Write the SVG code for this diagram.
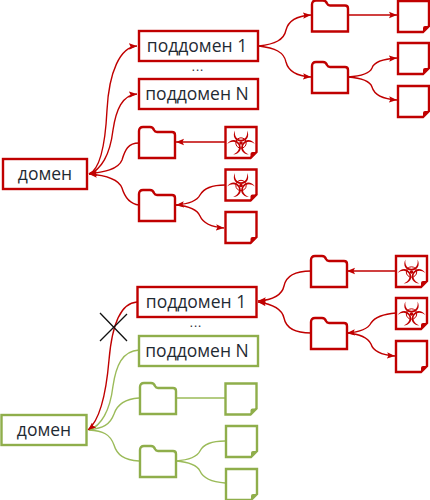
<svg xmlns="http://www.w3.org/2000/svg" xmlns:xlink="http://www.w3.org/1999/xlink" width="430" height="500" viewBox="0 0 430 500">
<style>
text{font-family:"Open Sans","Noto Sans",sans-serif;font-size:17.500px;fill:#1f2a33;text-anchor:middle}
text.d{font-size:12px;letter-spacing:1px}
.r{fill:#fff;stroke:#c00000;stroke-width:2.4}
.g{fill:#fff;stroke:#8fae4b;stroke-width:2.4}
.cr{fill:none;stroke:#c00000;stroke-width:1.4}
.cg{fill:none;stroke:#9bbb59;stroke-width:1.4}
.x{stroke:#111;stroke-width:1.3;fill:none}
</style>
<defs>
<marker id="a" markerWidth="9" markerHeight="8" refX="8" refY="4" orient="auto" markerUnits="userSpaceOnUse"><path d="M0,0.800 L8,4 L0,7.200 L1.500,4z" fill="#c00000"/></marker>
<path id="folder" d="M0,4 Q0,0 4,0 H11 Q14,0 15,3 Q16,5 18,5 H33 Q36,5 36,8 V31 H0z"/>
<path id="doc" d="M0,0 H31 V25 L25,31 H0z"/>
<path id="corner" d="M31,25 L25,31 V27 Q25,25 27,25z"/>
<path id="horn" d="M9.500,3.500 C6.500,9 9.500,14.500 15.500,14.500 C21.500,14.500 24.500,9 21.500,3.500 C22.500,9 19.500,12.800 15.500,12.800 C11.500,12.800 8.500,9 9.500,3.500z"/>
<g id="bio" fill="#c00000" stroke="none">
<circle cx="15.500" cy="16" r="5.200" fill="none" stroke="#c00000" stroke-width="1"/>
<circle cx="15.500" cy="16" r="1.800"/>
<use href="#horn" xlink:href="#horn"/>
<use href="#horn" xlink:href="#horn" transform="rotate(120 15.500 16)"/>
<use href="#horn" xlink:href="#horn" transform="rotate(240 15.500 16)"/>
</g>
</defs>

<g id="connectors">
<g class="cr">
<path d="M89,174 C99,170 105,150 107,110 C109,72 120,47 137,46" marker-end="url(#a)"/>
<path d="M89,174 C101,170 110,155 113,130 C116,110 122,95 137,94" marker-end="url(#a)"/>
<path d="M139,143 C128,143 125,150 122,160 C118,170 103,172 89,174" marker-end="url(#a)"/>
<path d="M139,205 C130,204 125,198 122,188 C118,178 103,175 89,174" marker-end="url(#a)"/>
<path d="M225,142 H176" marker-end="url(#a)"/>
<path d="M225,185 C212,185 204,188 200,195 C197,201 188,204 176,205" marker-end="url(#a)"/>
<path d="M176,205 C188,206 197,209 200,216 C203,223 212,227 224,228" marker-end="url(#a)"/>
<path d="M259,46 C275,44 284,40 286,30 C288,22 296,16 311,15" marker-end="url(#a)"/>
<path d="M259,46 C275,48 284,52 286,62 C288,70 296,76 311,77" marker-end="url(#a)"/>
<path d="M348,15 H397" marker-end="url(#a)"/>
<path d="M348,77 C362,76 370,73 372,68 C374,62 382,59 397,58" marker-end="url(#a)"/>
<path d="M348,77 C362,78 370,81 372,87 C374,94 382,99 397,100" marker-end="url(#a)"/>
</g>
<g class="cg">
<path d="M89,430 C101,426 110,411 113,386 C116,366 122,351 139,350"/>
<path d="M89,430 C103,428 110,425 114,414 C117,405 124,399 139,398"/>
<path d="M89,430 C103,431 110,434 114,445 C117,455 124,460 139,461"/>
<path d="M176,398 H225"/>
<path d="M176,461 C188,460 197,457 200,451 C203,445 212,441 225,441"/>
<path d="M176,461 C188,462 197,465 200,471 C203,478 212,482 225,483"/>
</g>
<g class="cr">
<path d="M137,302 C120,303 112,325 109,360 C106,395 100,420 88,430" marker-end="url(#a)"/>
<path d="M311,271 C295,271 286,276 284,286 C282,295 272,300 258,301" marker-end="url(#a)"/>
<path d="M311,333 C295,333 286,328 284,318 C282,309 272,304 258,302" marker-end="url(#a)"/>
<path d="M396,271 H347" marker-end="url(#a)"/>
<path d="M396,313 C383,314 375,317 371,323 C368,329 360,332 347,333" marker-end="url(#a)"/>
<path d="M347,333 C360,334 368,338 371,344 C373,351 382,355 395,356" marker-end="url(#a)"/>
</g>
<path class="x" d="M100,313 L127,341 M127,314 L100,341"/>
</g>

<g id="top-domain"><rect class="r" x="3" y="159" width="84" height="30"/><text x="45" y="180">домен</text></g>
<g id="top-sub1"><rect class="r" x="139" y="31" width="119" height="30"/><text x="197" y="52">поддомен 1</text></g>
<text class="d" x="198" y="71">...</text>
<g id="top-subN"><rect class="r" x="139" y="79" width="119" height="30"/><text x="197" y="100">поддомен N</text></g>
<g id="top-folder1"><use xlink:href="#folder" href="#folder" class="r" x="139" y="127"/></g>
<g id="top-folder2"><use xlink:href="#folder" href="#folder" class="r" x="139" y="190"/></g>
<g id="top-bio1" transform="translate(225.500,127)"><use href="#doc" xlink:href="#doc" class="r"/><use href="#corner" xlink:href="#corner" fill="#c00000"/><use href="#bio" xlink:href="#bio"/></g>
<g id="top-bio2" transform="translate(225.500,169.500)"><use href="#doc" xlink:href="#doc" class="r"/><use href="#corner" xlink:href="#corner" fill="#c00000"/><use href="#bio" xlink:href="#bio"/></g>
<g id="top-doc3" transform="translate(225.500,212)"><use href="#doc" xlink:href="#doc" class="r"/><use href="#corner" xlink:href="#corner" fill="#c00000"/></g>
<g id="top-folder3"><use href="#folder" xlink:href="#folder" class="r" x="312" y="0.500"/></g>
<g id="top-folder4"><use href="#folder" xlink:href="#folder" class="r" x="312" y="62"/></g>
<g id="top-doc4" transform="translate(398,1)"><use href="#doc" xlink:href="#doc" class="r"/><use href="#corner" xlink:href="#corner" fill="#c00000"/></g>
<g id="top-doc5" transform="translate(398,43)"><use href="#doc" xlink:href="#doc" class="r"/><use href="#corner" xlink:href="#corner" fill="#c00000"/></g>
<g id="top-doc6" transform="translate(398,86)"><use href="#doc" xlink:href="#doc" class="r"/><use href="#corner" xlink:href="#corner" fill="#c00000"/></g>

<g id="bot-domain"><rect class="g" x="1.500" y="415" width="85" height="30"/><text x="44" y="436">домен</text></g>
<g id="bot-sub1"><rect class="r" x="137.500" y="287" width="119" height="30"/><text x="196" y="308">поддомен 1</text></g>
<text class="d" x="196" y="327">...</text>
<g id="bot-subN"><rect class="g" x="139" y="336" width="119" height="30"/><text x="197" y="357">поддомен N</text></g>
<g id="bot-folder1"><use href="#folder" xlink:href="#folder" class="g" x="140" y="383"/></g>
<g id="bot-folder2"><use href="#folder" xlink:href="#folder" class="g" x="140" y="446"/></g>
<g id="bot-doc1" transform="translate(225.500,383.500)"><use href="#doc" xlink:href="#doc" class="g"/><use href="#corner" xlink:href="#corner" fill="#8fae4b"/></g>
<g id="bot-doc2" transform="translate(226,426)"><use href="#doc" xlink:href="#doc" class="g"/><use href="#corner" xlink:href="#corner" fill="#8fae4b"/></g>
<g id="bot-doc3" transform="translate(226,469)"><use href="#doc" xlink:href="#doc" class="g"/><use href="#corner" xlink:href="#corner" fill="#8fae4b"/></g>
<g id="bot-folder3"><use href="#folder" xlink:href="#folder" class="r" x="311" y="256"/></g>
<g id="bot-folder4"><use href="#folder" xlink:href="#folder" class="r" x="311" y="318"/></g>
<g id="bot-bio1" transform="translate(396,256)"><use href="#doc" xlink:href="#doc" class="r"/><use href="#corner" xlink:href="#corner" fill="#c00000"/><use href="#bio" xlink:href="#bio"/></g>
<g id="bot-bio2" transform="translate(396,298)"><use href="#doc" xlink:href="#doc" class="r"/><use href="#corner" xlink:href="#corner" fill="#c00000"/><use href="#bio" xlink:href="#bio"/></g>
<g id="bot-doc4" transform="translate(396,341)"><use href="#doc" xlink:href="#doc" class="r"/><use href="#corner" xlink:href="#corner" fill="#c00000"/></g>
</svg>
